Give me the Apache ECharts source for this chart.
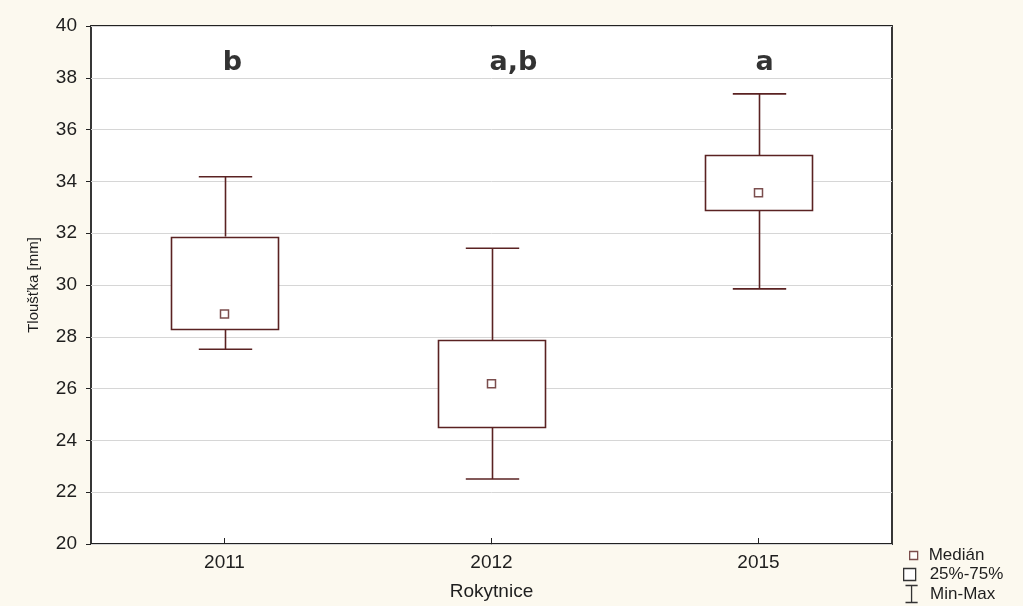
<!DOCTYPE html>
<html>
<head>
<meta charset="utf-8">
<script src="https://cdn.jsdelivr.net/npm/echarts@6/dist/echarts.min.js"></script>
<style>
  html, body { margin: 0; padding: 0; background: #fcf9ef; }
  #chart { width: 1023px; height: 606px; }
</style>
</head>
<body>
<div id="chart"></div>
<script>
// Thickness (mm) by year, Rokytnice site
const categories = ['2011', '2012', '2015'];
const minVals    = [27.52, 22.51, 29.85];
const q1Vals     = [28.33, 24.50, 32.88];
const medianVals = [28.88, 26.19, 33.56];
const q3Vals     = [31.87, 27.86, 35.01];
const maxVals    = [34.18, 31.42, 37.38];
const groupLetters = ['b', 'a,b', 'a'];
const letterLevel  = [38.58, 38.58, 38.58];

const yTicks = { min: 20, max: 40, interval: 2 };

// horizontal nudges of the group letters (px)
const letterShift = [8, 22, 6];

const boxColor = '#5a2222';
const textColor = '#1e1e1e';

const chart = echarts.init(document.getElementById('chart'), null, { renderer: 'canvas' });

const boxData = categories.map((c, i) => [i, q1Vals[i], q3Vals[i]]);
const whiskerData = categories.map((c, i) => [i, minVals[i], q1Vals[i], q3Vals[i], maxVals[i]]);

function renderBox(params, api) {
  const x = api.value(0);
  const top = api.coord([x, api.value(2)]);
  const bottom = api.coord([x, api.value(1)]);
  const w = api.size([1, 0])[0] * 0.4;
  return {
    type: 'rect',
    shape: { x: Math.round(top[0] - w / 2) + 0.5, y: Math.round(top[1]) + 0.5, width: Math.round(w), height: Math.round(bottom[1] - top[1]) },
    style: { fill: '#ffffff', stroke: boxColor, lineWidth: 1.6 }
  };
}

function renderWhisker(params, api) {
  const x = api.value(0);
  const pMin = api.coord([x, api.value(1)]);
  const pQ1 = api.coord([x, api.value(2)]);
  const pQ3 = api.coord([x, api.value(3)]);
  const pMax = api.coord([x, api.value(4)]);
  const cap = api.size([1, 0])[0] * 0.2;
  const cx = Math.round(pMin[0]) + 0.5;
  const st = { stroke: boxColor, lineWidth: 1.6 };
  return {
    type: 'group',
    children: [
      { type: 'line', shape: { x1: cx, y1: pMax[1], x2: cx, y2: pQ3[1] }, style: st },
      { type: 'line', shape: { x1: cx, y1: pQ1[1], x2: cx, y2: pMin[1] }, style: st },
      { type: 'line', shape: { x1: cx - cap / 2, y1: pMax[1], x2: cx + cap / 2, y2: pMax[1] }, style: st },
      { type: 'line', shape: { x1: cx - cap / 2, y1: pMin[1], x2: cx + cap / 2, y2: pMin[1] }, style: st }
    ]
  };
}

function legendText(padLeft) {
  return {
    fontFamily: 'Liberation Sans, Arial, sans-serif',
    fontSize: 17,
    color: textColor,
    padding: [0, 0, 0, padLeft]
  };
}

const option = {
  animation: false,
  backgroundColor: '#fcf9ef',
  grid: {
    left: 91, top: 26, width: 801, height: 520,
    show: true, backgroundColor: '#ffffff', borderColor: '#222222', borderWidth: 1.8
  },
  legend: [
    {
      left: 909, top: 547, itemWidth: 8, itemHeight: 8, padding: 0, selectedMode: false,
      data: ['Medián'],
      icon: 'path://M0,0H10V10H0Z',
      itemStyle: { color: '#ffffff', borderColor: boxColor, borderWidth: 1.3 },
      textStyle: legendText(6)
    },
    {
      left: 903, top: 566, itemWidth: 12, itemHeight: 12, padding: 0, selectedMode: false,
      data: ['25%-75%'],
      icon: 'path://M0,0H10V10H0Z',
      itemStyle: { color: '#ffffff', borderColor: '#333333', borderWidth: 1.3 },
      textStyle: legendText(9)
    },
    {
      left: 903, top: 583, itemWidth: 13, itemHeight: 17, padding: 0, selectedMode: false,
      data: ['Min-Max'],
      icon: 'path://M0,0H10M5,0V14M0,14H10',
      itemStyle: { color: 'none', borderColor: '#333333', borderWidth: 1.3 },
      textStyle: legendText(7)
    }
  ],
  xAxis: {
    type: 'category',
    data: categories,
    boundaryGap: true,
    name: 'Rokytnice',
    nameLocation: 'middle',
    nameGap: 38,
    nameTextStyle: { fontFamily: 'Liberation Sans, Arial, sans-serif', fontSize: 19, color: textColor },
    axisLine: { show: false },
    axisTick: { show: true, inside: true, alignWithLabel: true, length: 6, lineStyle: { color: '#222222', width: 1 } },
    axisLabel: { margin: 9, fontFamily: 'Liberation Sans, Arial, sans-serif', fontSize: 19, color: textColor },
    splitLine: { show: false }
  },
  yAxis: {
    type: 'value',
    min: yTicks.min, max: yTicks.max, interval: yTicks.interval,
    name: 'Tloušťka [mm]',
    nameLocation: 'middle',
    nameGap: 50,
    nameRotate: 90,
    nameTextStyle: { fontFamily: 'Liberation Sans Narrow, Liberation Sans, Arial, sans-serif', fontSize: 15, color: textColor },
    axisLine: { show: false },
    axisTick: { show: true, inside: false, length: 5, lineStyle: { color: '#222222', width: 1 } },
    axisLabel: { margin: 14, fontFamily: 'Liberation Sans, Arial, sans-serif', fontSize: 19, color: textColor },
    splitLine: { show: true, lineStyle: { color: '#d6d6d6', width: 1 } }
  },
  series: [
    {
      name: 'Min-Max',
      type: 'custom',
      renderItem: renderWhisker,
      data: whiskerData,
      itemStyle: { color: boxColor },
      encode: { x: 0, y: [1, 4] },
      silent: true,
      z: 2
    },
    {
      name: '25%-75%',
      type: 'custom',
      renderItem: renderBox,
      data: boxData,
      itemStyle: { color: boxColor },
      encode: { x: 0, y: [1, 2] },
      silent: true,
      z: 3
    },
    {
      name: 'Medián',
      type: 'scatter',
      data: medianVals,
      symbol: 'rect',
      symbolSize: 8,
      itemStyle: { color: '#ffffff', borderColor: boxColor, borderWidth: 1.5 },
      silent: true,
      z: 4
    },
    {
      name: 'letters',
      type: 'scatter',
      data: letterLevel.map((v, i) => ({ value: v, label: { offset: [letterShift[i], 0] } })),
      symbolSize: 0,
      silent: true,
      label: {
        show: true,
        position: 'inside',
        formatter: p => groupLetters[p.dataIndex],
        fontFamily: 'DejaVu Sans, Verdana, sans-serif',
        fontWeight: 'bold',
        fontSize: 27,
        color: '#000000'
      },
      z: 5
    }
  ]
};

chart.setOption(option);
</script>
</body>
</html>
